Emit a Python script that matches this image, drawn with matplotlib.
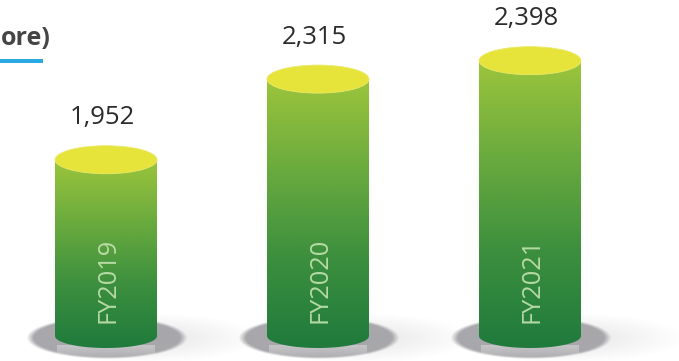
import numpy as np
import matplotlib
matplotlib.use("Agg")
import matplotlib.pyplot as plt
from matplotlib.colors import LinearSegmentedColormap
from matplotlib.patches import Ellipse, PathPatch, Rectangle
from matplotlib.path import Path

# ---- data ----
categories = ["FY2019", "FY2020", "FY2021"]
values = [1952, 2315, 2398]
value_labels = ["1,952", "2,315", "2,398"]
title_fragment = "ore)"

# ---- scale (pixels <-> data) ----
W, H = 679, 361
PX_PER_X = 212.0          # pixels per category step
PX_PER_V = 0.2221         # pixels per value unit
X_CENTER0 = 106.0         # pixel of first category
V_REF, Y_REF = 2221.67, 99.83   # value at pixel row (from top)

xmin = -X_CENTER0 / PX_PER_X
xmax = (W - X_CENTER0) / PX_PER_X
vtop = V_REF + Y_REF / PX_PER_V
vbot = V_REF - (H - Y_REF) / PX_PER_V
base = V_REF - (336 - Y_REF) / PX_PER_V   # cylinder base value

def dx(px):
    return px / PX_PER_X

def dv(px):
    return px / PX_PER_V

fig = plt.figure(figsize=(W / 100, H / 100), dpi=100)
ax = fig.add_axes([0, 0, 1, 1])
ax.set_xlim(xmin, xmax)
ax.set_ylim(vbot, vtop)
ax.axis("off")

bar_w = dx(102)
top_h = dv(28)
bot_h = dv(24)

body_cmap = LinearSegmentedColormap.from_list(
    "body", ["#1f7a3c", "#3c8f3e", "#6aab3e", "#9cc53c"])

# soft shadow images
def soft_ellipse(cx, cy, w, h, color, alpha_max, inner, outer, z):
    n = 200
    xs = np.linspace(-1.15, 1.15, n)
    X, Y = np.meshgrid(xs, xs)
    R = np.sqrt(X ** 2 + Y ** 2)
    a = np.clip((outer - R) / (outer - inner), 0, 1) * alpha_max
    rgba = np.zeros((n, n, 4))
    c = matplotlib.colors.to_rgb(color)
    rgba[..., 0], rgba[..., 1], rgba[..., 2] = c
    rgba[..., 3] = a
    ax.imshow(rgba, extent=[cx - w / 2 * 1.15, cx + w / 2 * 1.15,
                            cy - h / 2 * 1.15, cy + h / 2 * 1.15],
              aspect="auto", origin="lower", zorder=z, interpolation="bilinear")

for i, (cat, v, lab) in enumerate(zip(categories, values, value_labels)):
    x0, x1 = i - bar_w / 2, i + bar_w / 2
    sh_c = base - dv(2)
    # halo to the right
    soft_ellipse(i + dx(40), sh_c, dx(230), dv(50), "#9a9a9e", 0.18, 0.3, 1.0, 1)
    # main shadow
    soft_ellipse(i + dx(1), sh_c, dx(158), dv(41), "#a4a4a8", 0.95, 0.93, 1.02, 2)

    # cylinder body path
    t = np.linspace(np.pi, 2 * np.pi, 60)
    arc = np.column_stack([i + bar_w / 2 * np.cos(t), base + bot_h / 2 * np.sin(t)])
    verts = np.vstack([[x0, v], arc, [x1, v], [x0, v]])
    codes = [Path.MOVETO] + [Path.LINETO] * (len(verts) - 2) + [Path.CLOSEPOLY]
    patch = PathPatch(Path(verts, codes), facecolor="none", edgecolor="none", zorder=3)
    ax.add_patch(patch)
    grad = np.linspace(0, 1, 256).reshape(-1, 1)
    im = ax.imshow(grad, extent=[x0, x1, base - bot_h / 2, v], aspect="auto",
                   origin="lower", cmap=body_cmap, zorder=3)
    im.set_clip_path(patch)

    # reflection strip under the bar
    ref = np.zeros((50, 1, 4))
    ref[..., :3] = 1.0
    ref[:, 0, 3] = np.linspace(0.0, 0.35, 50)
    ax.imshow(ref, extent=[x0 + dx(2), x1 - dx(2), vbot, base - bot_h / 2 + dv(2)],
              aspect="auto", origin="lower", zorder=2.5)

    # top ellipse
    ax.add_patch(Ellipse((i, v), bar_w, top_h, facecolor="#e6e43a",
                         edgecolor="#eae96a", linewidth=0.6, zorder=4))

    # value label
    ax.annotate(lab, xy=(i, v), xytext=(-4, 42), textcoords="offset pixels",
                ha="center", va="center", fontsize=18.5, color="#2b2b2b",
                family="Open Sans", zorder=5)

    # rotated category label
    ax.text(i + dx(2), V_REF - (280 - Y_REF) / PX_PER_V, cat, rotation=90,
            ha="center", va="center", fontsize=18.3, color="#c4e3b0",
            alpha=0.9, family="Open Sans", zorder=5)

# title fragment and underline
fig.text(0.5 / W, 1 - 45 / H, title_fragment, ha="left", va="baseline",
         fontsize=18, fontweight="bold", color="#454545", family="Open Sans")
fig.add_artist(Rectangle((0, 1 - 62.5 / H), 43 / W, 3 / H, transform=fig.transFigure,
                         facecolor="#29a9e1", edgecolor="none"))

fig.savefig("out.png", dpi=100)
